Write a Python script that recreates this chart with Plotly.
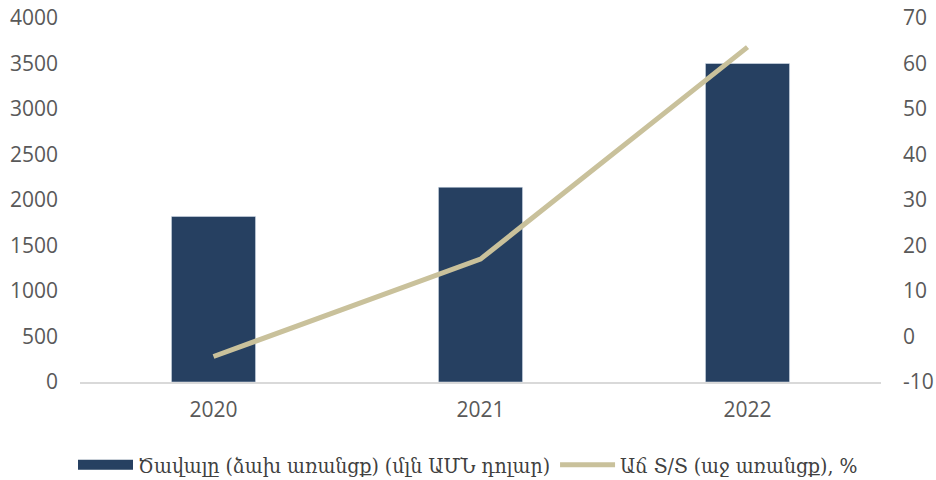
import plotly.graph_objects as go

years = ["2020", "2021", "2022"]
exports = [1820, 2140, 3500]
yoy = [-4.4, 17.0, 63.6]
bar_name = "Ծավալը (ձախ առանցք) (մլն ԱՄՆ դոլար)"
line_name = "Աճ Տ/Տ (աջ առանցք), %"
left_ticks = [0, 500, 1000, 1500, 2000, 2500, 3000, 3500, 4000]
right_ticks = [-10, 0, 10, 20, 30, 40, 50, 60, 70]
right_tick_labels = ["-10", "0", "10", "20", "30", "40", "50", "60", "70"]

font_family = "Open Sans, DejaVu Sans, sans-serif"
legend_family = "DejaVu Serif Condensed, DejaVu Serif, serif"
bar_color = "#264061"
line_color = "#C9C19B"

fig = go.Figure()
fig.add_trace(go.Bar(x=years, y=exports, name=bar_name, marker_color=bar_color,
                     width=0.315, yaxis="y", showlegend=False))
# legend-only swatch for the bar series (wide rectangle like the reference)
fig.add_trace(go.Scatter(x=[None], y=[None], name=bar_name, mode="lines",
                         line=dict(color=bar_color, width=13), yaxis="y"))
fig.add_trace(go.Scatter(x=years, y=yoy, name=line_name, mode="lines",
                         line=dict(color=line_color, width=5), yaxis="y2"))

fig.update_layout(
    width=936, height=480,
    margin=dict(l=80, r=55, t=18, b=98),
    paper_bgcolor="white", plot_bgcolor="white",
    font=dict(family=font_family, size=21, color="#595959"),
    xaxis=dict(showgrid=False, showline=True, linecolor="#D9D9D9", linewidth=1.5,
               ticks="", tickfont=dict(size=21), ticklabelstandoff=8,
               automargin=False),
    yaxis=dict(range=[0, 4000], tickvals=left_ticks, showgrid=False, zeroline=False,
               showline=False, ticks="", tickfont=dict(size=21),
               ticklabelstandoff=21, automargin=False),
    yaxis2=dict(range=[-10, 70], tickvals=right_ticks, ticktext=right_tick_labels,
                overlaying="y", side="right",
                showgrid=False, zeroline=False, showline=False, ticks="",
                tickfont=dict(size=21), ticklabelstandoff=21, automargin=False),
    legend=dict(orientation="h", x=0.5, xanchor="center", xref="container",
                y=15 / 480, yanchor="middle", yref="container",
                font=dict(size=21, color="#404040", family=legend_family),
                traceorder="normal", itemwidth=55),
    showlegend=True,
)

fig.write_html("out.html", config={"displayModeBar": False},
               post_script="document.body.style.margin='0';document.body.style.overflow='hidden';")
